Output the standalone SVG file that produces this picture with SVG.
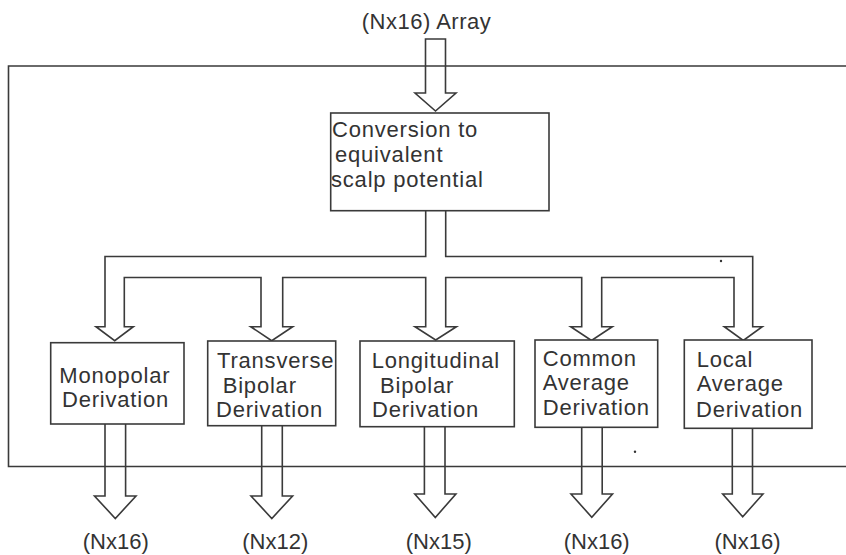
<svg xmlns="http://www.w3.org/2000/svg" width="846" height="555" viewBox="0 0 846 555">
<style>
.ln{fill:none;stroke:#3a3a3a;stroke-width:1.6;stroke-linejoin:miter}
.bx{fill:#fff;stroke:#3a3a3a;stroke-width:1.6}
.t{font-family:"Liberation Sans",Arial,sans-serif;font-size:22px;fill:#333;letter-spacing:0.8px}
.lb{font-family:"Liberation Sans",Arial,sans-serif;font-size:22px;fill:#333;text-anchor:middle}
</style>
<rect width="846" height="555" fill="#fff"/>
<g id="frame">
<path class="ln" d="M846,66 H8.5 V466.5 H846"/>
</g>
<g id="connectors">
<path class="ln" d="M425.5,39 H445.5 V93 H456 L435.5,111 L415,93 H425.5 Z"/>
<path class="ln" d="M425.7,211 V256.5 H105 V326.7 H96 L114.7,340.7 L133.3,326.7 H124.3 V277.5 H261 V326.7 H250.7 L271.7,340.7 L292.7,326.7 H282.7 V277.5 H425.7 V326.7 H415 L435.7,340 L456.4,326.7 H445.7 V277.5 H581.7 V326.7 H570.7 L591.5,340.5 L612.3,326.7 H601.7 V277.5 H734 V326.7 H724.3 L743.3,340.5 L762.3,326.7 H752.7 V256.5 H445.7 V211"/>
<path class="ln" d="M105,424 V496 H94.5 L115.3,518.5 L136,496 H125.6 V424"/>
<path class="ln" d="M261.7,425.7 V496 H251 L271.8,518.5 L292.6,496 H282.3 V425.7"/>
<path class="ln" d="M424.4,426.7 V494 H414.8 L435.3,517.5 L455.9,494 H445 V426.7"/>
<path class="ln" d="M581.7,427.3 V494 H571 L591.8,517.3 L612.5,494 H602.2 V427.3"/>
<path class="ln" d="M732.3,428.3 V494 H722.7 L742.7,516.8 L763,494 H752.5 V428.3"/>
</g>
<g id="input-label"><text class="lb" x="426.5" y="28.5" style="letter-spacing:0.5px">(Nx16) Array</text></g>
<g id="conversion">
<rect class="bx" x="330.7" y="113" width="218.3" height="97.7"/>
<text class="t" x="332" y="137">Conversion to</text>
<text class="t" x="335" y="162">equivalent</text>
<text class="t" x="331" y="187">scalp potential</text>
</g>
<g id="monopolar">
<rect class="bx" x="50.7" y="342.7" width="133.3" height="81.3"/>
<text class="t" x="59.3" y="382.7">Monopolar</text>
<text class="t" x="62" y="406.7">Derivation</text>
</g>
<g id="transverse">
<rect class="bx" x="207.7" y="341" width="128" height="84.7"/>
<text class="t" x="217" y="367.7">Transverse</text>
<text class="t" x="222.7" y="392.7">Bipolar</text>
<text class="t" x="216" y="416.7">Derivation</text>
</g>
<g id="longitudinal">
<rect class="bx" x="360" y="341" width="154.3" height="85.7"/>
<text class="t" x="371.7" y="367.7">Longitudinal</text>
<text class="t" x="380" y="392.7">Bipolar</text>
<text class="t" x="372" y="416.7">Derivation</text>
</g>
<g id="common">
<rect class="bx" x="535" y="340" width="122.7" height="87.3"/>
<text class="t" x="542.7" y="365.7">Common</text>
<text class="t" x="542.7" y="390">Average</text>
<text class="t" x="542.7" y="415">Derivation</text>
</g>
<g id="local">
<rect class="bx" x="684.3" y="340" width="127.7" height="88.3"/>
<text class="t" x="696.7" y="366.7">Local</text>
<text class="t" x="696.7" y="391">Average</text>
<text class="t" x="696" y="416.7">Derivation</text>
</g>
<g id="output-labels">
<text class="lb" x="115.8" y="549">(Nx16)</text>
<text class="lb" x="275.3" y="549">(Nx12)</text>
<text class="lb" x="438.8" y="549">(Nx15)</text>
<text class="lb" x="596.7" y="549">(Nx16)</text>
<text class="lb" x="747.5" y="549">(Nx16)</text>
</g>
<circle cx="721" cy="261" r="1.2" fill="#333"/>
<circle cx="635" cy="451.7" r="1.2" fill="#333"/>
</svg>
